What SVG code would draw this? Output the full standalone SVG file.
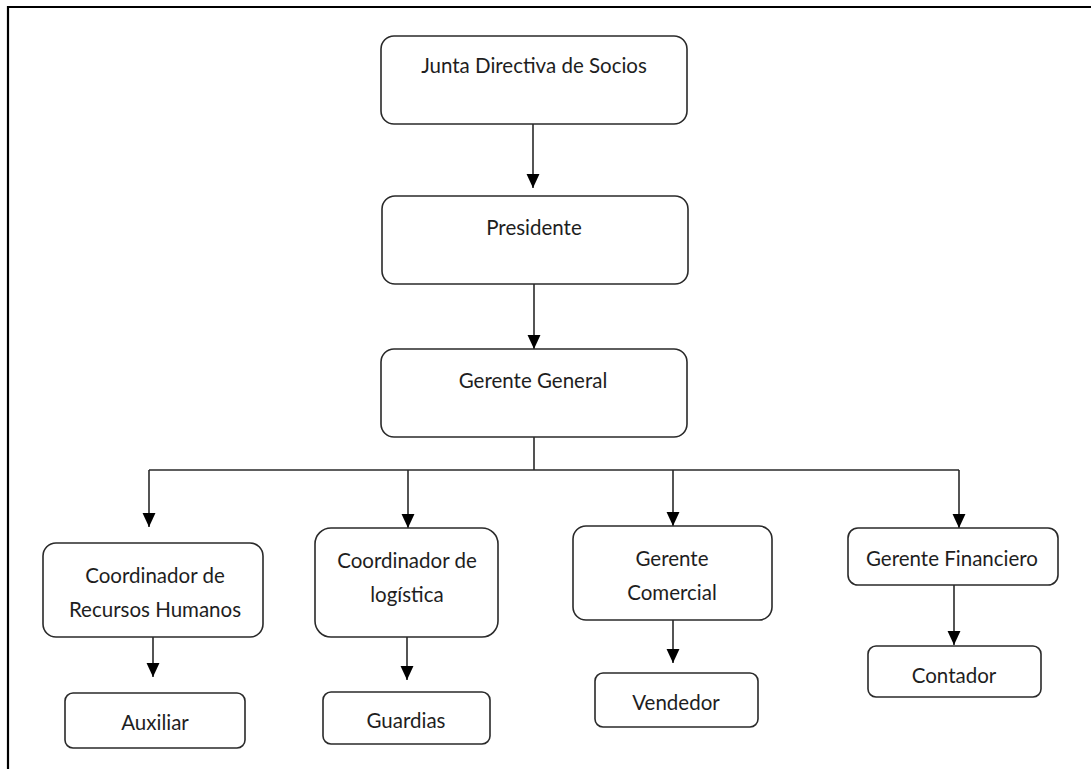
<svg xmlns="http://www.w3.org/2000/svg" width="1091" height="769" viewBox="0 0 1091 769">
  <style>
    .box { fill: #ffffff; stroke: #2a2a2a; stroke-width: 1.6; }
    .lbl { font-family: Lato, "Liberation Sans", sans-serif; font-size: 20.5px; fill: #1e1e1e; text-anchor: middle; }
    .con { fill: none; stroke: #2a2a2a; stroke-width: 1.6; }
    .arr { marker-end: url(#ah); }
    .frame { fill: none; stroke: #000000; stroke-width: 2.2; }
  </style>
  <defs>
    <marker id="ah" markerUnits="userSpaceOnUse" markerWidth="14" markerHeight="14" viewBox="0 0 13 12" refX="13" refY="6" orient="auto">
      <path d="M0,0 L13,6 L0,12 z" fill="#000000"/>
    </marker>
  </defs>
  <rect width="1091" height="769" fill="#ffffff"/>
  <path class="frame" d="M8,769 L8,7 L1091,7"/>

  <g id="connectors">
    <path class="con arr" d="M533,124 L533,188"/>
    <path class="con arr" d="M534,284 L534,349"/>
    <path class="con" d="M534,437 L534,470 M149,470 L959,470"/>
    <path class="con arr" d="M149,470 L149,527"/>
    <path class="con arr" d="M408,470 L408,528"/>
    <path class="con arr" d="M673,470 L673,526"/>
    <path class="con arr" d="M959,470 L959,528"/>
    <path class="con arr" d="M153,637 L153,677"/>
    <path class="con arr" d="M407,637 L407,680"/>
    <path class="con arr" d="M673,620 L673,663"/>
    <path class="con arr" d="M954,585 L954,645"/>
  </g>

  <g id="junta">
    <rect class="box" x="381" y="36" width="306" height="88" rx="13"/>
    <text class="lbl" x="534" y="73">Junta Directiva de Socios</text>
  </g>
  <g id="presidente">
    <rect class="box" x="382" y="196" width="306" height="88" rx="13"/>
    <text class="lbl" x="534" y="235">Presidente</text>
  </g>
  <g id="gerente-general">
    <rect class="box" x="381" y="349" width="306" height="88" rx="13"/>
    <text class="lbl" x="533" y="388">Gerente General</text>
  </g>
  <g id="coord-rrhh">
    <rect class="box" x="43" y="543" width="220" height="94" rx="13"/>
    <text class="lbl" x="155" y="583">Coordinador de</text>
    <text class="lbl" x="155" y="617">Recursos Humanos</text>
  </g>
  <g id="coord-logistica">
    <rect class="box" x="315" y="528" width="183" height="109" rx="16"/>
    <text class="lbl" x="407" y="568">Coordinador de</text>
    <text class="lbl" x="407" y="602">logística</text>
  </g>
  <g id="gerente-comercial">
    <rect class="box" x="573" y="526" width="199" height="94" rx="13"/>
    <text class="lbl" x="672" y="566">Gerente</text>
    <text class="lbl" x="672" y="600">Comercial</text>
  </g>
  <g id="gerente-financiero">
    <rect class="box" x="848" y="528" width="210" height="57" rx="10"/>
    <text class="lbl" x="952" y="566">Gerente Financiero</text>
  </g>
  <g id="auxiliar">
    <rect class="box" x="65" y="693" width="180" height="55" rx="8"/>
    <text class="lbl" x="155" y="730">Auxiliar</text>
  </g>
  <g id="guardias">
    <rect class="box" x="323" y="692" width="167" height="52" rx="8"/>
    <text class="lbl" x="406" y="728">Guardias</text>
  </g>
  <g id="vendedor">
    <rect class="box" x="595" y="673" width="163" height="54" rx="8"/>
    <text class="lbl" x="676" y="710">Vendedor</text>
  </g>
  <g id="contador">
    <rect class="box" x="868" y="646" width="173" height="51" rx="8"/>
    <text class="lbl" x="954" y="683">Contador</text>
  </g>
</svg>
